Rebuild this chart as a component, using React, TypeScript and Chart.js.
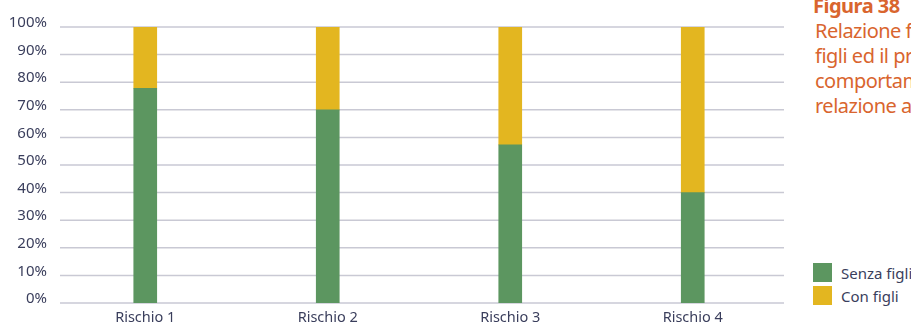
import React, { useEffect, useRef } from "react";
import { Chart, registerables } from "chart.js";

Chart.register(...registerables);

const categories = ["Rischio 1", "Rischio 2", "Rischio 3", "Rischio 4"];
const senzaFigli = [77.8, 70, 57.3, 40];
const conFigli = [22.2, 30.2, 42.7, 60];
const yTicks = [0, 10, 20, 30, 40, 50, 60, 70, 80, 90, 100];
const titleLines = ["Relazione f", "figli ed il pr", "comportam", "relazione al"];

const GREEN = "#5c9660";
const YELLOW = "#e3b620";
const TEXT = "#3a3e5c";
const ORANGE = "#d9652e";
const FONT = "'Noto Sans', sans-serif";

export default function App() {
  const ref = useRef<HTMLCanvasElement | null>(null);

  useEffect(() => {
    if (!ref.current) return;
    const gridPlugin = {
      id: "customGrid",
      beforeDatasetsDraw(chart: any) {
        const y = chart.scales.y;
        const ctx = chart.ctx;
        ctx.save();
        ctx.strokeStyle = "#c9c9d4";
        ctx.lineWidth = 1.5;
        yTicks.forEach((v) => {
          const py = y.getPixelForValue(v);
          ctx.beginPath();
          ctx.moveTo(60, py);
          ctx.lineTo(chart.chartArea.right, py);
          ctx.stroke();
        });
        ctx.restore();
      },
    };
    const chart = new Chart(ref.current, {
      type: "bar",
      data: {
        labels: categories,
        datasets: [
          { label: "Senza figli", data: senzaFigli, backgroundColor: GREEN, barThickness: 23 },
          { label: "Con figli", data: conFigli, backgroundColor: YELLOW, barThickness: 23 },
        ],
      },
      plugins: [gridPlugin],
      options: {
        animation: false,
        responsive: false,
        maintainAspectRatio: false,
        layout: { padding: { top: 27, right: 6, left: 0, bottom: 0 } },
        plugins: { legend: { display: false }, tooltip: { enabled: false } },
        scales: {
          x: {
            stacked: true,
            grid: { display: false, drawTicks: false },
            border: { display: false },
            ticks: { color: TEXT, font: { family: FONT, size: 14.5 }, padding: 6 },
            afterFit(scale: any) {
              scale.height = 23;
            },
          },
          y: {
            stacked: true,
            min: 0,
            max: 100,
            grid: { display: false, drawTicks: false },
            border: { display: false },
            afterBuildTicks(scale: any) {
              scale.ticks = yTicks.map((v) => ({ value: v }));
            },
            ticks: {
              color: TEXT,
              font: { family: FONT, size: 15 },
              padding: 7,
              labelOffset: -4,
              callback: (v: any) => v + "%",
            },
            afterFit(scale: any) {
              scale.width = 54;
            },
          },
        },
      },
    });
    return () => chart.destroy();
  }, []);

  return (
    <div
      style={{
        position: "fixed",
        left: 0,
        top: 0,
        width: 911,
        height: 326,
        overflow: "hidden",
        background: "#fff",
        fontFamily: FONT,
      }}
    >
      <canvas ref={ref} width={790} height={326} style={{ position: "absolute", left: 0, top: 0 }} />
      <div
        style={{
          position: "absolute",
          left: 813,
          top: -7,
          color: ORANGE,
          fontSize: 20,
          lineHeight: "25px",
          letterSpacing: "-0.5px",
          whiteSpace: "nowrap",
        }}
      >
        <div style={{ fontWeight: "bold" }}>Figura 38</div>
        {titleLines.map((t) => (
          <div key={t} style={{ marginLeft: 2 }}>{t}</div>
        ))}
      </div>
      <div style={{ position: "absolute", left: 813, top: 261, color: TEXT, fontSize: 15, whiteSpace: "nowrap" }}>
        <div style={{ display: "flex", alignItems: "center", height: 23 }}>
          <span style={{ width: 19, height: 19, background: GREEN, display: "inline-block", marginRight: 9 }} />
          Senza figli
        </div>
        <div style={{ display: "flex", alignItems: "center", height: 23 }}>
          <span style={{ width: 19, height: 19, background: YELLOW, display: "inline-block", marginRight: 9 }} />
          Con figli
        </div>
      </div>
    </div>
  );
}
